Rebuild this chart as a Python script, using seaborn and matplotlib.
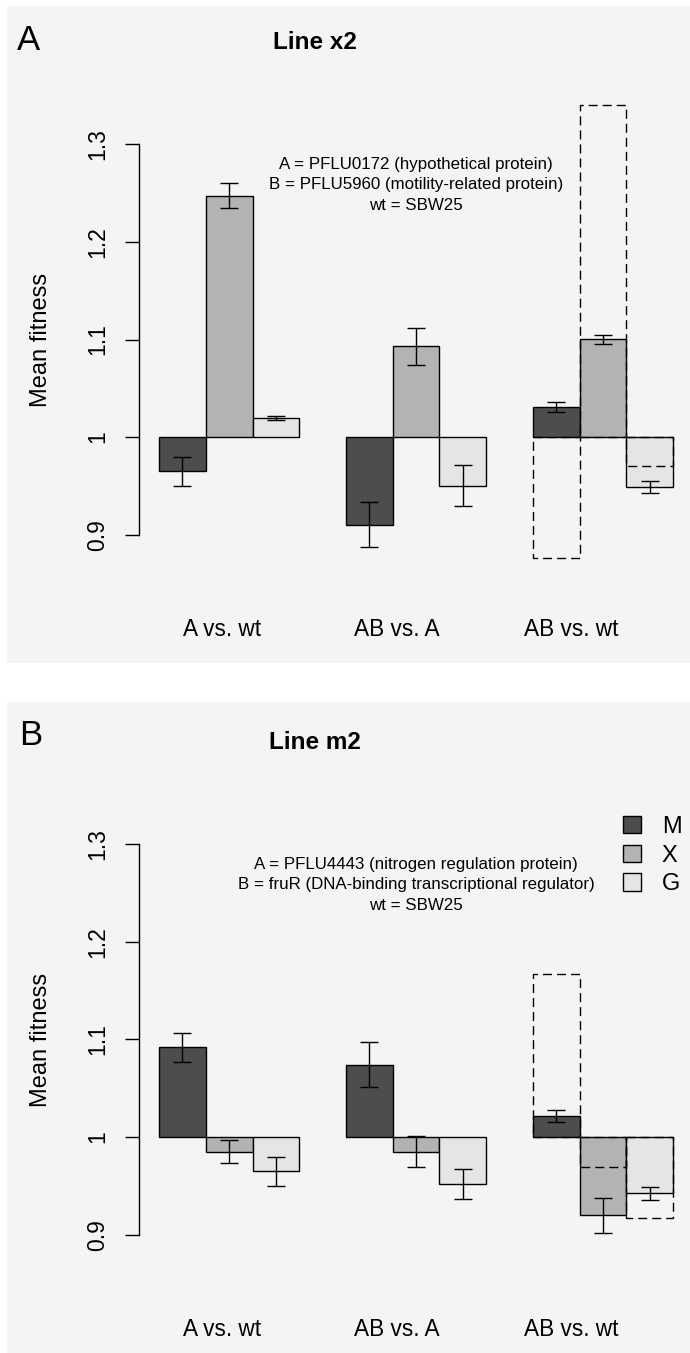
import numpy as np
import pandas as pd
import matplotlib
matplotlib.use("Agg")
import matplotlib.pyplot as plt
import seaborn as sns
from matplotlib.patches import Rectangle, Patch

# ---------------- data ----------------
comparisons = ["A vs. wt", "AB vs. A", "AB vs. wt"]
types = ["M", "X", "G"]
type_colors = ["#4D4D4D", "#B3B3B3", "#E5E5E5"]

# Panel A : Line x2 (mean fitness and standard error, per comparison)
x2_M = [0.965, 0.910, 1.031]
x2_X = [1.2475, 1.093, 1.100]
x2_G = [1.0195, 0.950, 0.949]
x2_M_se = [0.015, 0.023, 0.005]
x2_X_se = [0.0125, 0.019, 0.005]
x2_G_se = [0.002, 0.021, 0.006]
x2_expected = [0.876, 1.340, 0.970]      # expected AB vs. wt (M, X, G)

# Panel B : Line m2
m2_M = [1.092, 1.074, 1.0215]
m2_X = [0.985, 0.985, 0.920]
m2_G = [0.965, 0.952, 0.9425]
m2_M_se = [0.015, 0.023, 0.006]
m2_X_se = [0.012, 0.016, 0.018]
m2_G_se = [0.015, 0.015, 0.0065]
m2_expected = [1.167, 0.969, 0.917]

yticks = [0.9, 1.0, 1.1, 1.2, 1.3]
ytick_labels = ["0.9", "1", "1.1", "1.2", "1.3"]

panels = [
    dict(letter="A", title="Line x2", M=x2_M, X=x2_X, G=x2_G,
         M_se=x2_M_se, X_se=x2_X_se, G_se=x2_G_se, expected=x2_expected,
         notes=["A = PFLU0172 (hypothetical protein)",
                "B = PFLU5960 (motility-related protein)",
                "wt = SBW25"], legend=False),
    dict(letter="B", title="Line m2", M=m2_M, X=m2_X, G=m2_G,
         M_se=m2_M_se, X_se=m2_X_se, G_se=m2_G_se, expected=m2_expected,
         notes=["A = PFLU4443 (nitrogen regulation protein)",
                "B = fruR (DNA-binding transcriptional regulator)",
                "wt = SBW25"], legend=True),
]

# ---------------- layout ----------------
W, H = 690, 1353
sns.set_theme(style="white")
plt.rcParams["font.family"] = ["Liberation Sans", "DejaVu Sans"]
plt.rcParams["text.color"] = "black"
plt.rcParams["axes.labelcolor"] = "black"
plt.rcParams["xtick.color"] = "black"
plt.rcParams["ytick.color"] = "black"

fig = plt.figure(figsize=(W / 100, H / 100), dpi=100)
fig.patch.set_facecolor("white")

def fx(px):
    return px / W

def fy(py):
    return 1 - py / H

panel_bg = "#F4F4F4"
panel_boxes = [(7, 6, 690, 663), (7, 702, 690, 1353)]
panel_offsets = [0, 700]
letter_pos = [(17, 50), (19, 745)]

xlim = (-0.485, 2.466)
ylim = (0.83, 1.37)
xlabel_pos = [-0.036, 0.896, 1.829]
baseline = 1.0
dash = (0, (6.5, 3.6))

for i, p in enumerate(panels):
    off = panel_offsets[i]
    x0, y0, x1, y1 = panel_boxes[i]
    fig.add_artist(Rectangle((fx(x0), fy(y1)), fx(x1) - fx(x0), fy(y0) - fy(y1),
                             transform=fig.transFigure, facecolor=panel_bg,
                             edgecolor="none", zorder=-10))

    ax_left, ax_right = 138.5, 690
    ax_top, ax_bot = 76 + off, 603 + off
    ax = fig.add_axes([fx(ax_left), fy(ax_bot), fx(ax_right) - fx(ax_left),
                       fy(ax_top) - fy(ax_bot)])
    ax.set_facecolor("none")

    rows = []
    for j, c in enumerate(comparisons):
        for t in types:
            rows.append(dict(comparison=c, type=t, fitness=p[t][j], se=p[t + "_se"][j]))
    df = pd.DataFrame(rows)
    df["height"] = df["fitness"] - baseline

    sns.barplot(data=df, x="comparison", y="height", hue="type",
                order=comparisons, hue_order=types,
                palette=dict(zip(types, type_colors)), saturation=1,
                width=0.75, bottom=baseline, edgecolor="black", linewidth=1.0,
                errorbar=None, legend=False, ax=ax, zorder=2)

    bars = sorted(ax.patches, key=lambda b: b.get_x())
    xc = [b.get_x() + b.get_width() / 2 for b in bars]
    ax.errorbar(xc, df["fitness"], yerr=df["se"], fmt="none", ecolor="black",
                elinewidth=1.0, capsize=6.5, capthick=1.0, zorder=3)

    exp_df = pd.DataFrame(dict(comparison=[comparisons[2]] * 3, type=types,
                               fitness=p["expected"]))
    exp_df["height"] = exp_df["fitness"] - baseline
    sns.barplot(data=exp_df, x="comparison", y="height", hue="type",
                order=comparisons, hue_order=types,
                palette=dict(zip(types, ["black"] * 3)), fill=False,
                width=0.75, bottom=baseline, linewidth=1.0, linestyle=dash,
                errorbar=None, legend=False, ax=ax, zorder=4)

    ax.set_xlim(*xlim)
    ax.set_ylim(*ylim)
    for s in ["top", "right", "bottom"]:
        ax.spines[s].set_visible(False)
    ax.spines["left"].set_bounds(yticks[0], yticks[-1])
    ax.spines["left"].set_linewidth(1.0)
    ax.spines["left"].set_color("black")
    ax.set_yticks(yticks)
    ax.set_yticklabels(ytick_labels, rotation=90, va="center", fontsize=16.5)
    ax.tick_params(axis="y", left=True, length=10, width=1.0, direction="out",
                   pad=11, colors="black")
    ax.set_xticks(xlabel_pos)
    ax.set_xticklabels(comparisons, fontsize=16.3)
    ax.tick_params(axis="x", length=0, pad=11, colors="black")
    ax.set_xlabel("")
    ax.set_ylabel("")

    fig.text(fx(47), fy(340 + off), "Mean fitness", rotation=90,
             rotation_mode="anchor", ha="center", va="baseline", fontsize=17)

    lx, ly = letter_pos[i]
    fig.text(fx(lx), fy(ly), p["letter"], ha="left", va="baseline", fontsize=25)
    fig.text(fx(315), fy(49 + off), p["title"], ha="center", va="baseline",
             fontsize=17.5, fontweight="bold")

    for k, line in enumerate(p["notes"]):
        fig.text(fx(416), fy(169 + 20.5 * k + off), line, ha="center",
                 va="baseline", fontsize=12.2)

    if p["legend"]:
        handles = [Patch(facecolor=c, edgecolor="black", linewidth=1.0)
                   for c in type_colors]
        ax.legend(handles, types, loc="upper left",
                  bbox_to_anchor=(fx(623), fy(816)), bbox_transform=fig.transFigure,
                  frameon=False, fontsize=17, handlelength=0.75, handleheight=0.75,
                  handletextpad=0.9, labelspacing=0.28, borderpad=0, borderaxespad=0)

fig.savefig("out.png", dpi=100, facecolor="white")
